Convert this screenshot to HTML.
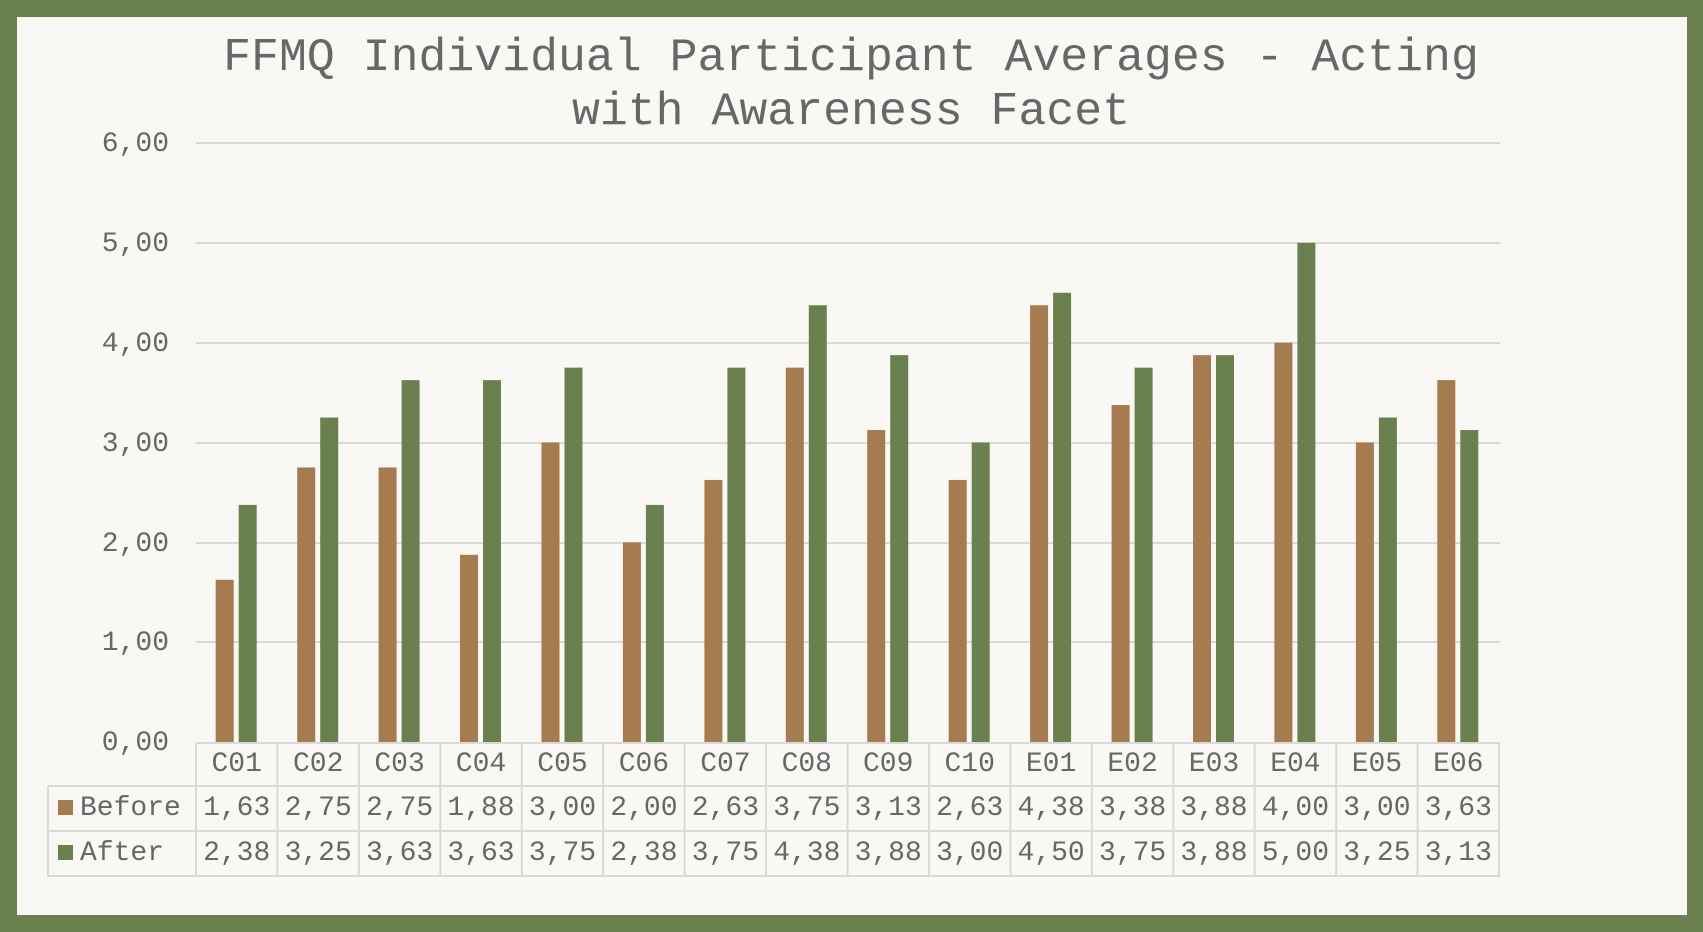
<!DOCTYPE html>
<html><head><meta charset="utf-8"><style>
html,body{margin:0;padding:0;}
body{width:1703px;height:932px;overflow:hidden;background:#6B804F;}
svg{display:block;}
text{font-family:"Liberation Mono",monospace;fill:#676767;}
</style></head><body>
<svg width="1703" height="932" xmlns="http://www.w3.org/2000/svg">
<rect x="0" y="0" width="1703" height="932" fill="#6B804F"/>
<rect x="17" y="17" width="1670" height="898" fill="#F9F8F4"/>
<text x="851" y="70" font-size="46.5" text-anchor="middle">FFMQ Individual Participant Averages - Acting</text>
<text x="851" y="124" font-size="46.5" text-anchor="middle">with Awareness Facet</text>
<g stroke="#D9D9D9" stroke-width="2">
<line x1="196" x2="1500" y1="143" y2="143"/>
<line x1="196" x2="1500" y1="243" y2="243"/>
<line x1="196" x2="1500" y1="343" y2="343"/>
<line x1="196" x2="1500" y1="443" y2="443"/>
<line x1="196" x2="1500" y1="543" y2="543"/>
<line x1="196" x2="1500" y1="642" y2="642"/>
</g>
<g font-size="28" text-anchor="end">
<text x="169" y="151">6,00</text>
<text x="169" y="251">5,00</text>
<text x="169" y="351">4,00</text>
<text x="169" y="451">3,00</text>
<text x="169" y="551">2,00</text>
<text x="169" y="650">1,00</text>
<text x="169" y="750">0,00</text>
</g>
<g transform="translate(0,742) scale(1,-99.83)">
<g fill="#A67B50">
<rect x="215.7" y="0" width="18" height="1.625"/>
<rect x="297.2" y="0" width="18" height="2.75"/>
<rect x="378.6" y="0" width="18" height="2.75"/>
<rect x="460" y="0" width="18" height="1.875"/>
<rect x="541.5" y="0" width="18" height="3"/>
<rect x="622.9" y="0" width="18" height="2"/>
<rect x="704.4" y="0" width="18" height="2.625"/>
<rect x="785.8" y="0" width="18" height="3.75"/>
<rect x="867.2" y="0" width="18" height="3.125"/>
<rect x="948.7" y="0" width="18" height="2.625"/>
<rect x="1030.1" y="0" width="18" height="4.375"/>
<rect x="1111.6" y="0" width="18" height="3.375"/>
<rect x="1193" y="0" width="18" height="3.875"/>
<rect x="1274.4" y="0" width="18" height="4"/>
<rect x="1355.9" y="0" width="18" height="3"/>
<rect x="1437.3" y="0" width="18" height="3.625"/>
</g>
<g fill="#6B804F">
<rect x="238.7" y="0" width="18" height="2.375"/>
<rect x="320.2" y="0" width="18" height="3.25"/>
<rect x="401.6" y="0" width="18" height="3.625"/>
<rect x="483" y="0" width="18" height="3.625"/>
<rect x="564.5" y="0" width="18" height="3.75"/>
<rect x="645.9" y="0" width="18" height="2.375"/>
<rect x="727.4" y="0" width="18" height="3.75"/>
<rect x="808.8" y="0" width="18" height="4.375"/>
<rect x="890.2" y="0" width="18" height="3.875"/>
<rect x="971.7" y="0" width="18" height="3"/>
<rect x="1053.1" y="0" width="18" height="4.5"/>
<rect x="1134.6" y="0" width="18" height="3.75"/>
<rect x="1216" y="0" width="18" height="3.875"/>
<rect x="1297.4" y="0" width="18" height="5"/>
<rect x="1378.9" y="0" width="18" height="3.25"/>
<rect x="1460.3" y="0" width="18" height="3.125"/>
</g>
</g>
<g stroke="#D9D9D9" stroke-width="2" fill="none">
<line x1="196" x2="1500" y1="743" y2="743"/>
<line x1="48" x2="1500" y1="786" y2="786"/>
<line x1="48" x2="1500" y1="831" y2="831"/>
<line x1="48" x2="1500" y1="876" y2="876"/>
<line x1="48" x2="48" y1="786" y2="876"/>
<line x1="196" x2="196" y1="743" y2="876"/>
<line x1="277.4" x2="277.4" y1="743" y2="876"/>
<line x1="358.9" x2="358.9" y1="743" y2="876"/>
<line x1="440.3" x2="440.3" y1="743" y2="876"/>
<line x1="521.8" x2="521.8" y1="743" y2="876"/>
<line x1="603.2" x2="603.2" y1="743" y2="876"/>
<line x1="684.6" x2="684.6" y1="743" y2="876"/>
<line x1="766.1" x2="766.1" y1="743" y2="876"/>
<line x1="847.5" x2="847.5" y1="743" y2="876"/>
<line x1="929" x2="929" y1="743" y2="876"/>
<line x1="1010.4" x2="1010.4" y1="743" y2="876"/>
<line x1="1091.8" x2="1091.8" y1="743" y2="876"/>
<line x1="1173.3" x2="1173.3" y1="743" y2="876"/>
<line x1="1254.7" x2="1254.7" y1="743" y2="876"/>
<line x1="1336.2" x2="1336.2" y1="743" y2="876"/>
<line x1="1417.6" x2="1417.6" y1="743" y2="876"/>
<line x1="1499" x2="1499" y1="743" y2="876"/>
</g>
<rect x="58" y="800" width="15" height="15" fill="#A67B50"/>
<rect x="58" y="845" width="15" height="15" fill="#6B804F"/>
<g font-size="28">
<text x="80" y="815">Before</text>
<text x="80" y="860">After</text>
</g>
<g font-size="28" text-anchor="middle">
<text y="771"><tspan x="236.7">C01</tspan><tspan x="318.2">C02</tspan><tspan x="399.6">C03</tspan><tspan x="481">C04</tspan><tspan x="562.5">C05</tspan><tspan x="643.9">C06</tspan><tspan x="725.4">C07</tspan><tspan x="806.8">C08</tspan><tspan x="888.2">C09</tspan><tspan x="969.7">C10</tspan><tspan x="1051.1">E01</tspan><tspan x="1132.6">E02</tspan><tspan x="1214">E03</tspan><tspan x="1295.4">E04</tspan><tspan x="1376.9">E05</tspan><tspan x="1458.3">E06</tspan></text>
<text y="815"><tspan x="236.7">1,63</tspan><tspan x="318.2">2,75</tspan><tspan x="399.6">2,75</tspan><tspan x="481">1,88</tspan><tspan x="562.5">3,00</tspan><tspan x="643.9">2,00</tspan><tspan x="725.4">2,63</tspan><tspan x="806.8">3,75</tspan><tspan x="888.2">3,13</tspan><tspan x="969.7">2,63</tspan><tspan x="1051.1">4,38</tspan><tspan x="1132.6">3,38</tspan><tspan x="1214">3,88</tspan><tspan x="1295.4">4,00</tspan><tspan x="1376.9">3,00</tspan><tspan x="1458.3">3,63</tspan></text>
<text y="860"><tspan x="236.7">2,38</tspan><tspan x="318.2">3,25</tspan><tspan x="399.6">3,63</tspan><tspan x="481">3,63</tspan><tspan x="562.5">3,75</tspan><tspan x="643.9">2,38</tspan><tspan x="725.4">3,75</tspan><tspan x="806.8">4,38</tspan><tspan x="888.2">3,88</tspan><tspan x="969.7">3,00</tspan><tspan x="1051.1">4,50</tspan><tspan x="1132.6">3,75</tspan><tspan x="1214">3,88</tspan><tspan x="1295.4">5,00</tspan><tspan x="1376.9">3,25</tspan><tspan x="1458.3">3,13</tspan></text>
</g>
</svg>
</body></html>
